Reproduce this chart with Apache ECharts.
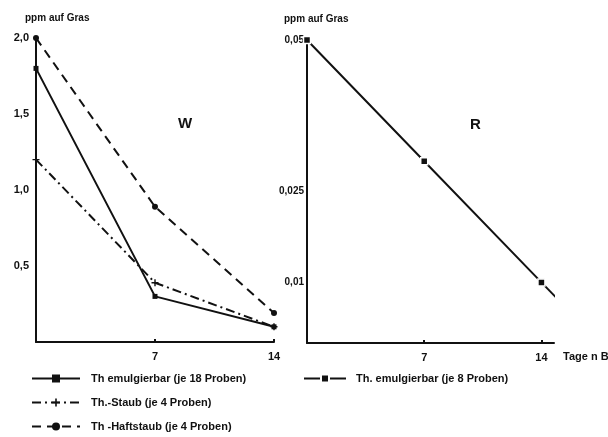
<!DOCTYPE html>
<html><head><meta charset="utf-8">
<script src="https://cdn.jsdelivr.net/npm/echarts@6/dist/echarts.min.js"></script>
<style>html,body{margin:0;padding:0;background:#fff}#c{width:608px;height:437px}</style>
</head><body><div id="c"></div>
<script>
// ---- data ----
const days = [0, 7, 14];
const wEmul = [1.8, 0.30, 0.10];
const wStaub = [1.2, 0.39, 0.10];
const wHaft = [2.0, 0.89, 0.19];
const rEmul = [0.05, 0.03, 0.01];
const rExtDays = [14, 14.95];
const rExt = [0.01, 0.0073];
const wTicks = [0.5, 1.0, 1.5, 2.0];
const rTicks = [0.01, 0.025, 0.05];
const rTickLabels = ['0,01', '0,025', '0,05'];
const xTicks = [7, 14];
const names = {
  wEmul: 'Th emulgierbar (je 18 Proben)',
  wStaub: 'Th.-Staub (je 4 Proben)',
  wHaft: 'Th -Haftstaub (je 4 Proben)',
  rEmul: 'Th. emulgierbar (je 8 Proben)'
};

const pair = (xs, ys) => xs.map((x, i) => [x, ys[i]]);
const FONT = 'Liberation Sans';
const ink = '#111';
const plusPath = 'path://M4,0H6V4H10V6H6V10H4V6H0V4H4Z';

const chart = echarts.init(document.getElementById('c'), null, {renderer: 'canvas'});
const axisLineStyle = {color: ink, width: 2};
const lbl = {color: ink, fontFamily: FONT, fontWeight: 'bold', fontSize: 11};

chart.setOption({
  animation: false,
  backgroundColor: '#fff',
  grid: [
    {left: 36, top: 38, width: 238, height: 304},
    {left: 307, top: 40, width: 247, height: 303}
  ],
  xAxis: [
    {gridIndex: 0, type: 'value', min: 0, max: 14, interval: 7,
     axisLine: {lineStyle: axisLineStyle}, splitLine: {show: false},
     axisTick: {show: true, inside: true, length: 3, lineStyle: {color: ink, width: 2}},
     axisLabel: Object.assign({margin: 9, formatter: v => xTicks.includes(v) ? String(v) : ''}, lbl)},
    {gridIndex: 1, type: 'value', min: 0, max: 14.75,
     axisLine: {lineStyle: axisLineStyle}, splitLine: {show: false},
     axisTick: {show: true, inside: true, length: 3, customValues: xTicks, lineStyle: {color: ink, width: 2}},
     axisLabel: Object.assign({margin: 9, customValues: xTicks, formatter: v => String(v)}, lbl)}
  ],
  yAxis: [
    {gridIndex: 0, type: 'value', min: 0, max: 2, interval: 0.5,
     axisLine: {show: true, lineStyle: axisLineStyle}, splitLine: {show: false},
     axisTick: {show: false},
     axisLabel: Object.assign({margin: 7, formatter: v => wTicks.includes(v) ? v.toFixed(1).replace('.', ',') : ''}, lbl)},
    {gridIndex: 1, type: 'value', min: 0, max: 0.05,
     axisLine: {show: true, lineStyle: axisLineStyle}, splitLine: {show: false},
     axisTick: {show: false},
     axisLabel: Object.assign({margin: 3, customValues: rTicks,
       formatter: v => rTickLabels[rTicks.indexOf(v)] || ''}, lbl, {fontSize: 10})}
  ],
  legend: [
    {left: 26, top: 368, orient: 'vertical', itemGap: 13, itemWidth: 48, itemHeight: 10,
     data: [names.wEmul, names.wStaub, names.wHaft],
     textStyle: Object.assign({padding: [0, 0, 0, 6]}, lbl)},
    {left: 298, top: 368, orient: 'vertical', itemWidth: 42, itemHeight: 10,
     data: [names.rEmul],
     textStyle: Object.assign({padding: [0, 0, 0, 5]}, lbl)}
  ],
  series: [
    {name: names.wEmul, type: 'line', xAxisIndex: 0, yAxisIndex: 0, data: pair(days, wEmul),
     symbol: 'rect', symbolSize: 5, itemStyle: {color: ink},
     lineStyle: {color: ink, width: 2, type: 'solid'}},
    {name: names.wStaub, type: 'line', xAxisIndex: 0, yAxisIndex: 0, data: pair(days, wStaub),
     symbol: plusPath, symbolSize: 7, itemStyle: {color: ink},
     lineStyle: {color: ink, width: 2, type: [9, 4, 2, 4]}},
    {name: names.wHaft, type: 'line', xAxisIndex: 0, yAxisIndex: 0, data: pair(days, wHaft),
     symbol: 'circle', symbolSize: 6, itemStyle: {color: ink},
     lineStyle: {color: ink, width: 2, type: [9, 6]}},
    {name: 'ext', type: 'line', xAxisIndex: 1, yAxisIndex: 1, data: pair(rExtDays, rExt),
     symbol: 'none', z: 1, lineStyle: {color: ink, width: 2}, silent: true},
    {name: names.rEmul, type: 'line', xAxisIndex: 1, yAxisIndex: 1, data: pair(days, rEmul),
     symbol: 'rect', symbolSize: 7, z: 3,
     itemStyle: {color: ink, borderColor: '#fff', borderWidth: 1.5},
     lineStyle: {color: ink, width: 2}}
  ],
  graphic: [
    {type: 'text', left: 25, top: 13, style: {text: 'ppm auf Gras', fill: ink, font: 'bold 10px ' + FONT}},
    {type: 'text', left: 284, top: 14, style: {text: 'ppm auf Gras', fill: ink, font: 'bold 10px ' + FONT}},
    {type: 'text', left: 178, top: 116, style: {text: 'W', fill: ink, font: 'bold 15px ' + FONT}},
    {type: 'text', left: 470, top: 117, style: {text: 'R', fill: ink, font: 'bold 15px ' + FONT}},
    {type: 'text', left: 563, top: 351, style: {text: 'Tage n B', fill: ink, font: 'bold 11px ' + FONT}}
  ]
});
</script></body></html>
